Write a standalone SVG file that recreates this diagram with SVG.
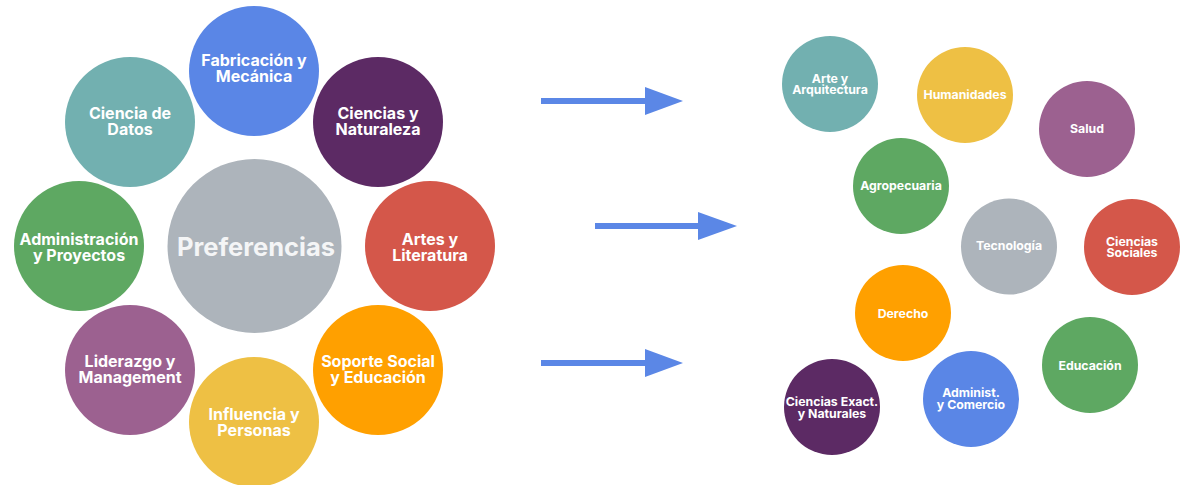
<svg xmlns="http://www.w3.org/2000/svg" width="1186" height="485" viewBox="0 0 1186 485">
<style>
text{font-family:Inter,"Noto Sans","Liberation Sans",sans-serif;fill:#ffffff;text-anchor:middle;font-weight:700}
.l{font-size:16px}
.s{font-size:12.3px}
.p{font-size:25.5px;font-weight:700;fill:#f4f5f6}
.teal{fill:#72b0b0}.blue{fill:#5a86e6}.purple{fill:#5c2a64}.green{fill:#5ea862}
.grey{fill:#adb4bb}.red{fill:#d4574a}.mauve{fill:#9c6190}.yellow{fill:#eec044}.orange{fill:#ffa000}
.arrow{stroke:#5b87e6;stroke-width:6;fill:none}
.head{fill:#5b87e6}
</style>
<rect width="1186" height="485" fill="#ffffff"/>
<g id="preferencias"><circle class="grey" cx="254.5" cy="246" r="87"/><text class="p" x="256" y="256">Preferencias</text></g>
<g id="fabricacion"><circle class="blue" cx="254" cy="71" r="65"/><text class="l" x="254" y="66">Fabricación y</text><text class="l" x="254" y="82">Mecánica</text></g>
<g id="ciencia-datos"><circle class="teal" cx="130" cy="122" r="65"/><text class="l" x="130" y="119">Ciencia de</text><text class="l" x="130" y="135">Datos</text></g>
<g id="ciencias-naturaleza"><circle class="purple" cx="378" cy="122" r="65"/><text class="l" x="378" y="119">Ciencias y</text><text class="l" x="378" y="135">Naturaleza</text></g>
<g id="administracion"><circle class="green" cx="79" cy="246" r="65"/><text class="l" x="79" y="245">Administración</text><text class="l" x="79" y="261">y Proyectos</text></g>
<g id="artes"><circle class="red" cx="430" cy="246" r="65"/><text class="l" x="430" y="245">Artes y</text><text class="l" x="430" y="261">Literatura</text></g>
<g id="liderazgo"><circle class="mauve" cx="130" cy="370" r="65"/><text class="l" x="130" y="367">Liderazgo y</text><text class="l" x="130" y="383">Management</text></g>
<g id="soporte"><circle class="orange" cx="378" cy="370" r="65"/><text class="l" x="378" y="367">Soporte Social</text><text class="l" x="378" y="383">y Educación</text></g>
<g id="influencia"><circle class="yellow" cx="254" cy="422" r="65"/><text class="l" x="254" y="420">Influencia y</text><text class="l" x="254" y="436">Personas</text></g>
<g id="connectors">
<line class="arrow" x1="541" y1="101" x2="646" y2="101"/><polygon class="head" points="645,87 683,101 645,115"/>
<line class="arrow" x1="595" y1="226" x2="699" y2="226"/><polygon class="head" points="698,212 737,226 698,240"/>
<line class="arrow" x1="541" y1="363" x2="646" y2="363"/><polygon class="head" points="645,349 683,363 645,377"/>
</g>
<g id="arte-arquitectura"><circle class="teal" cx="830" cy="84" r="48"/><text class="s" x="830" y="83">Arte y</text><text class="s" x="830" y="93.5">Arquitectura</text></g>
<g id="humanidades"><circle class="yellow" cx="965" cy="95" r="48"/><text class="s" x="965" y="99">Humanidades</text></g>
<g id="salud"><circle class="mauve" cx="1087" cy="129" r="48"/><text class="s" x="1087" y="133">Salud</text></g>
<g id="agropecuaria"><circle class="green" cx="901" cy="186" r="48"/><text class="s" x="901" y="190">Agropecuaria</text></g>
<g id="tecnologia"><circle class="grey" cx="1009" cy="246.5" r="48"/><text class="s" x="1009" y="250">Tecnología</text></g>
<g id="ciencias-sociales"><circle class="red" cx="1132" cy="247" r="48"/><text class="s" x="1132" y="246">Ciencias</text><text class="s" x="1132" y="257">Sociales</text></g>
<g id="derecho"><circle class="orange" cx="903" cy="313" r="48"/><text class="s" x="903" y="317.5">Derecho</text></g>
<g id="educacion"><circle class="green" cx="1090" cy="365" r="48"/><text class="s" x="1090" y="369.5">Educación</text></g>
<g id="administ-comercio"><circle class="blue" cx="971" cy="399" r="48"/><text class="s" x="971" y="397">Administ.</text><text class="s" x="971" y="408.5">y Comercio</text></g>
<g id="ciencias-exactas"><circle class="purple" cx="832" cy="407" r="48"/><text class="s" x="832" y="406">Ciencias Exact.</text><text class="s" x="832" y="417.5">y Naturales</text></g>
</svg>
